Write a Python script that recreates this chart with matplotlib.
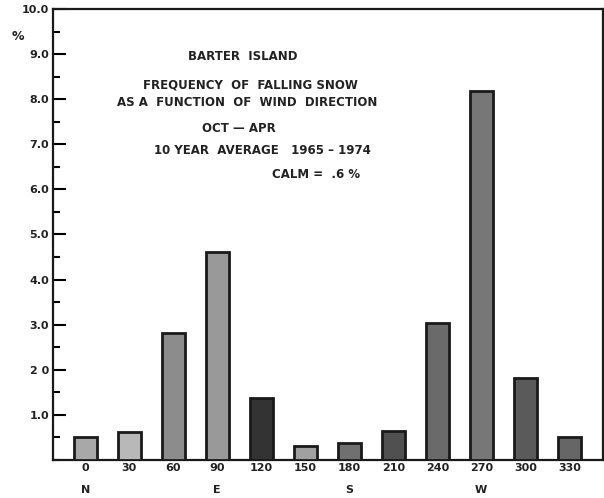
import matplotlib
matplotlib.use("Agg")
import matplotlib.pyplot as plt
from matplotlib.ticker import MultipleLocator

# wind direction (deg) and frequency of falling snow (%)
directions = [0, 30, 60, 90, 120, 150, 180, 210, 240, 270, 300, 330]
frequency = [0.51, 0.62, 2.81, 4.62, 1.37, 0.31, 0.38, 0.64, 3.03, 8.19, 1.81, 0.51]
shades = ["#a8a8a8", "#b8b8b8", "#8c8c8c", "#999999", "#333333", "#a0a0a0",
          "#707070", "#505050", "#6a6a6a", "#777777", "#5a5a5a", "#666666"]
compass = {0: "N", 90: "E", 180: "S", 270: "W"}

title_lines = [
    ("BARTER  ISLAND", 243, 57),
    ("FREQUENCY  OF  FALLING SNOW", 250, 85),
    ("AS A  FUNCTION  OF  WIND  DIRECTION", 247, 103),
    ("OCT \u2014 APR", 239, 128),
    ("10 YEAR  AVERAGE   1965 \u2013 1974", 262, 151),
    ("CALM =  .6 %", 316, 175),
]

W, H = 604, 498
fig = plt.figure(figsize=(W / 100, H / 100), dpi=100)
ax = fig.add_axes([53 / W, 1 - 460 / H, (603 - 53) / W, (460 - 9) / H])

ax.bar(directions, frequency, width=16, color=shades, edgecolor="#1a1a1a",
       linewidth=2.0, zorder=3)

ax.set_xlim(-22, 353)
ax.set_ylim(0, 10)

ax.yaxis.set_minor_locator(MultipleLocator(0.5))
ax.set_yticks([1, 2, 3, 4, 5, 6, 7, 8, 9, 10])
ax.set_yticklabels(["1.0", "2 0", "3.0", "4.0", "5.0", "6.0", "7.0", "8.0", "9.0", "10.0"],
                   fontsize=8, fontweight="bold", color="#222222")
ax.tick_params(axis="y", which="major", direction="in", length=9, width=1.5, pad=3)
ax.tick_params(axis="y", which="minor", direction="in", length=5, width=1.5)

ax.set_xticks(directions)
ax.set_xticklabels([str(d) for d in directions], fontsize=8, fontweight="bold",
                   color="#222222")
ax.tick_params(axis="x", length=0, pad=2)

for s in ax.spines.values():
    s.set_linewidth(1.6)
    s.set_color("#1a1a1a")

for d, lab in compass.items():
    ax.text(d, -0.66, lab, ha="center", va="center", fontsize=8,
            fontweight="bold", color="#222222")

fig.text(18 / W, 1 - 36 / H, "%", ha="center", va="center", fontsize=9,
         fontweight="bold", color="#222222")

for txt, x, y in title_lines:
    fig.text(x / W, 1 - y / H, txt, ha="center", va="center", fontsize=8.5,
             fontweight="bold", color="#222222")

fig.savefig("out.png", dpi=100)
